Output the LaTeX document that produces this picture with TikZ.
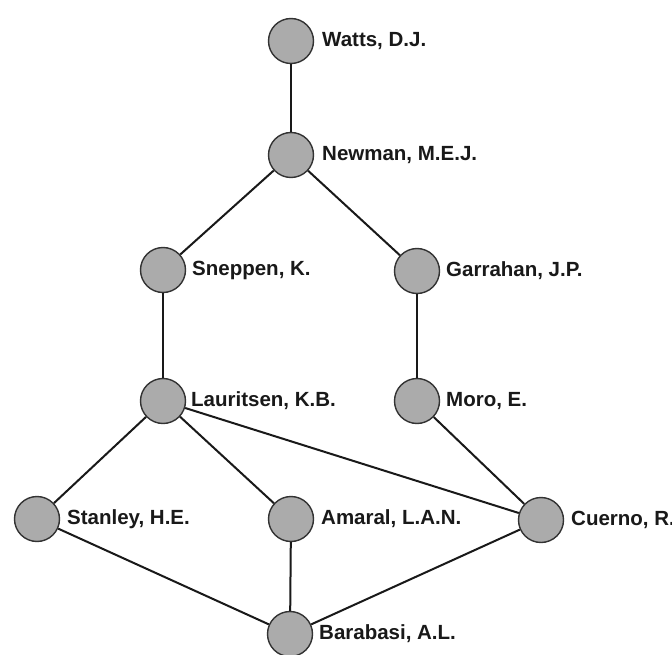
\documentclass[tikz,border=0pt]{standalone}
\usepackage{fontspec}
\setmainfont{Liberation Sans}
\begin{document}
\begin{tikzpicture}[x=1pt,y=-1pt,
  person/.style={circle,draw=black!80,line width=1.4pt,fill=black!33,minimum size=45pt,inner sep=0pt},
  lbl/.style={anchor=west,font=\fontsize{20.5}{22}\selectfont\bfseries,text=black!90,inner sep=0pt},
  link/.style={draw=black!90,line width=2pt}]
\useasboundingbox (0,0) rectangle (672,655);
\clip (0,0) rectangle (672,655);
\fill[white] (0,0) rectangle (672,655);
\node[person] (watts) at (291,41) {};
\node[person] (newman) at (291,155) {};
\node[person] (sneppen) at (163,270) {};
\node[person] (garrahan) at (417,271) {};
\node[person] (lauritsen) at (163,401) {};
\node[person] (moro) at (417,401) {};
\node[person] (stanley) at (37,519) {};
\node[person] (amaral) at (291,519) {};
\node[person] (cuerno) at (541,520) {};
\node[person] (barabasi) at (290,634) {};
\node[lbl] (twatts) at (322,41) {Watts, D.J.};
\node[lbl] (tnewman) at (322,155) {Newman, M.E.J.};
\node[lbl] (tsneppen) at (192,270) {Sneppen, K.};
\node[lbl] (tgarrahan) at (446,271) {Garrahan, J.P.};
\node[lbl] (tlauritsen) at (191,401) {Lauritsen, K.B.};
\node[lbl] (tmoro) at (446,401) {Moro, E.};
\node[lbl] (tstanley) at (67,519) {Stanley, H.E.};
\node[lbl] (tamaral) at (321,519) {Amaral, L.A.N.};
\node[lbl] (tcuerno) at (571,520) {Cuerno, R.};
\node[lbl] (tbarabasi) at (319,634) {Barabasi, A.L.};
\path[link] (watts) -- (newman);
\path[link] (newman) -- (sneppen);
\path[link] (newman) -- (garrahan);
\path[link] (sneppen) -- (lauritsen);
\path[link] (garrahan) -- (moro);
\path[link] (lauritsen) -- (stanley);
\path[link] (lauritsen) -- (amaral);
\path[link] (lauritsen) -- (cuerno);
\path[link] (moro) -- (cuerno);
\path[link] (stanley) -- (barabasi);
\path[link] (amaral) -- (barabasi);
\path[link] (cuerno) -- (barabasi);
\end{tikzpicture}
\end{document}
